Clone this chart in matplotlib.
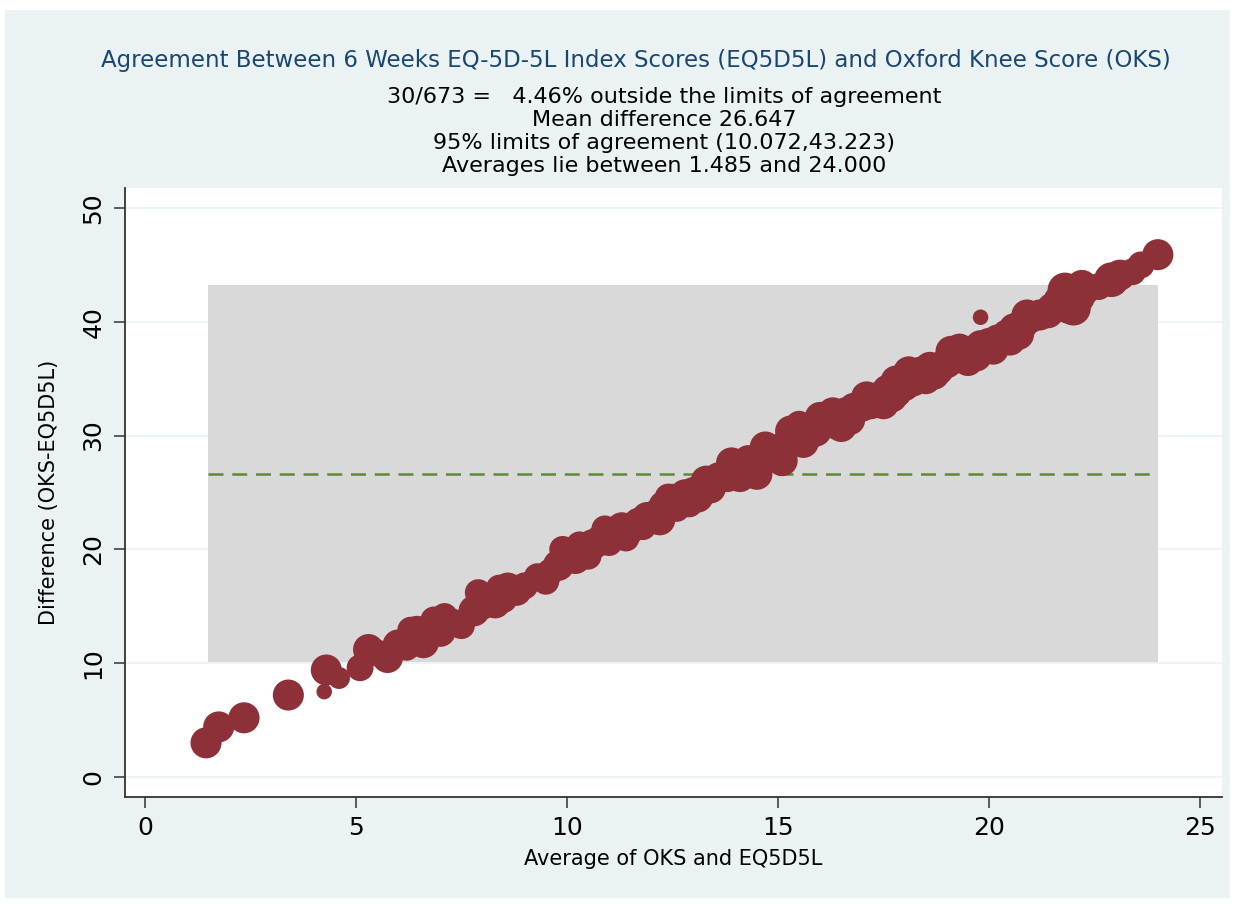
import numpy as np
import matplotlib
matplotlib.use("Agg")
import matplotlib.pyplot as plt
from matplotlib.patches import Rectangle

# Bland-Altman values (average, difference, count)
avg = [1.45, 1.75, 2.35, 3.4, 4.25, 4.3, 4.6, 5.1, 5.3, 5.5, 5.75, 6.0, 6.2,
       6.45, 6.6, 6.85, 7.0, 7.3, 7.5, 7.8, 7.9, 8.1, 8.3, 8.6, 8.8, 9.3,
       9.5, 9.8, 10.0, 10.2, 10.4, 10.6, 10.8, 10.9, 11.1, 11.3, 11.5, 11.7,
       11.9, 12.1, 12.3, 12.5, 12.6, 12.8, 13.0, 13.2, 13.4, 13.6, 13.8,
       14.0, 14.2, 14.4, 14.6, 14.8, 15.0, 15.2, 15.4, 15.5, 15.7, 15.9,
       16.2, 16.4, 16.6, 16.8, 17.0, 17.2, 17.4, 17.6, 17.8, 18.0, 18.2,
       18.4, 18.6, 18.8, 19.0, 19.2, 19.4, 19.6, 19.8, 19.8, 20.0, 20.2,
       20.4, 20.6, 20.8, 21.0, 21.2, 21.5, 21.7, 21.9, 22.1, 22.3, 22.6,
       22.9, 23.1, 23.4, 23.6, 24.0,
       6.3, 7.1, 8.0, 9.0, 9.9, 11.0, 11.8, 12.9, 13.3, 13.9, 14.3, 14.5,
       15.1, 15.3, 16.0, 16.5, 17.1, 17.5, 18.1, 18.5, 19.1, 19.5, 20.1,
       20.5, 21.4, 21.8, 22.0, 22.2,
       8.5, 9.6, 10.5, 11.4, 12.2, 13.1, 14.1, 15.6, 16.7, 17.7, 18.7,
       19.7, 20.7, 8.4, 10.3, 12.4, 14.7, 16.3, 17.8, 19.3, 20.9]
diff = [3.0, 4.4, 5.2, 7.2, 7.5, 9.4, 8.7, 9.6, 11.2, 10.9, 10.5, 11.6, 11.4,
        12.8, 11.8, 13.8, 12.8, 13.6, 13.3, 14.6, 16.2, 15.7, 15.3, 16.6,
        16.4, 17.6, 17.2, 18.6, 19.6, 19.2, 19.6, 20.4, 20.8, 21.8, 21.2,
        21.9, 21.6, 22.3, 22.8, 23.2, 23.8, 24.4, 23.6, 24.8, 25.0, 25.6,
        25.4, 26.3, 26.4, 26.9, 26.8, 27.4, 27.7, 28.4, 28.6, 29.2, 29.8,
        31.0, 30.0, 30.4, 31.2, 31.0, 32.0, 32.4, 32.6, 32.8, 33.4, 34.0,
        33.8, 34.4, 34.8, 35.6, 36.0, 35.8, 36.4, 36.8, 37.3, 37.1, 40.4,
        37.9, 38.1, 38.4, 39.0, 39.4, 39.8, 40.2, 40.6, 41.2, 41.8, 41.5,
        42.2, 42.7, 43.1, 43.7, 44.1, 44.4, 45.0, 45.9,
        12.9, 14.1, 15.0, 16.8, 20.0, 20.6, 22.0, 24.0, 26.0, 27.6, 27.8,
        26.6, 27.8, 30.4, 31.6, 30.8, 33.4, 32.8, 35.6, 35.0, 37.4, 36.6,
        37.6, 38.4, 40.8, 42.8, 41.2, 43.2,
        15.6, 18.0, 19.4, 21.0, 22.6, 24.6, 26.4, 29.4, 31.4, 33.4, 35.4,
        37.0, 38.9, 16.6, 20.4, 24.6, 29.0, 32.0, 34.8, 37.6, 40.6]
freq = [4, 4, 4, 4, 1, 4, 2, 3, 4, 3, 4, 4, 3, 4, 4, 3, 4, 3, 3, 4, 3, 3, 4,
        4, 4, 3, 3, 4, 4, 4, 3, 4, 4, 3, 4, 4, 3, 4, 4, 3, 4, 4, 3, 4, 4, 3,
        4, 4, 4, 4, 4, 4, 4, 4, 4, 4, 4, 3, 4, 4, 4, 4, 4, 4, 4, 4, 4, 4, 4,
        4, 4, 4, 4, 4, 4, 4, 4, 4, 1, 4, 4, 4, 3, 4, 4, 3, 4, 4, 5, 6, 5, 3,
        3, 5, 4, 3, 3, 4,
        3, 3, 3, 3, 3, 3, 3, 3, 4, 4, 4, 4, 4, 4, 4, 4, 4, 4, 4, 4, 4, 4, 4,
        4, 4, 5, 5, 4,
        3, 3, 3, 3, 4, 4, 4, 4, 4, 4, 4, 4, 4, 3, 3, 3, 4, 4, 4, 4, 4]

mean_diff = 26.647
lower_loa = 10.072
upper_loa = 43.223
avg_min = 1.485
avg_max = 24.000

title = "Agreement Between 6 Weeks EQ-5D-5L Index Scores (EQ5D5L) and Oxford Knee Score (OKS)"
subtitle = ["30/673 =   4.46% outside the limits of agreement",
            "Mean difference 26.647",
            "95% limits of agreement (10.072,43.223)",
            "Averages lie between 1.485 and 24.000"]

plt.rcParams['font.family'] = ['DejaVu Sans']

W, H = 1237, 906
fig = plt.figure(figsize=(W / 100, H / 100), dpi=100, facecolor="white")
fig.patches.append(Rectangle((5 / W, 8 / H), 1225 / W, 888 / H,
                             transform=fig.transFigure, facecolor="#eaf2f3",
                             edgecolor="none", zorder=-5))

ax = fig.add_axes([125 / W, 1 - 797 / H, 1097 / W, 609 / H], zorder=2)
ax.set_facecolor("white")

# limits of agreement band and mean line
ax.add_patch(Rectangle((avg_min, lower_loa), avg_max - avg_min,
                       upper_loa - lower_loa, facecolor="#d9d9d9",
                       edgecolor="none", zorder=1))
ax.plot([avg_min, avg_max], [mean_diff, mean_diff], color="#5f8a35",
        linestyle=(0, (6, 3.5)), linewidth=1.8, zorder=3)

ax.scatter(avg, diff, s=np.array(freq) * 125, color="#8e3037",
           edgecolors="none", zorder=4)

ax.set_xlim(-0.47, 25.52)
ax.set_ylim(-1.76, 51.76)
ax.set_xticks(range(0, 26, 5))
ax.set_yticks(range(0, 51, 10))
ax.yaxis.grid(True, color="#eaf2f3", linewidth=1.2, zorder=0)
ax.set_axisbelow(True)
for s in ["top", "right"]:
    ax.spines[s].set_visible(False)
for s in ["left", "bottom"]:
    ax.spines[s].set_color("#333333")
    ax.spines[s].set_linewidth(1.3)
ax.tick_params(direction="out", length=8, width=1.1, color="#333333",
               labelsize=18, pad=6)
plt.setp(ax.get_yticklabels(), rotation=90, va="center")

ax.set_xlabel("Average of OKS and EQ5D5L", fontsize=15, labelpad=6)
ax.set_ylabel("Difference (OKS-EQ5D5L)", fontsize=15, labelpad=16)

fig.text(636 / W, 1 - 60 / H, title, ha="center", va="center",
         fontsize=16.5, color="#1a476f")
for i, line in enumerate(subtitle):
    fig.text(664 / W, 1 - 97 / H - 23 * i / H, line, ha="center",
             va="center", fontsize=16, color="black")

fig.savefig("out.png", dpi=100, facecolor=fig.get_facecolor())
